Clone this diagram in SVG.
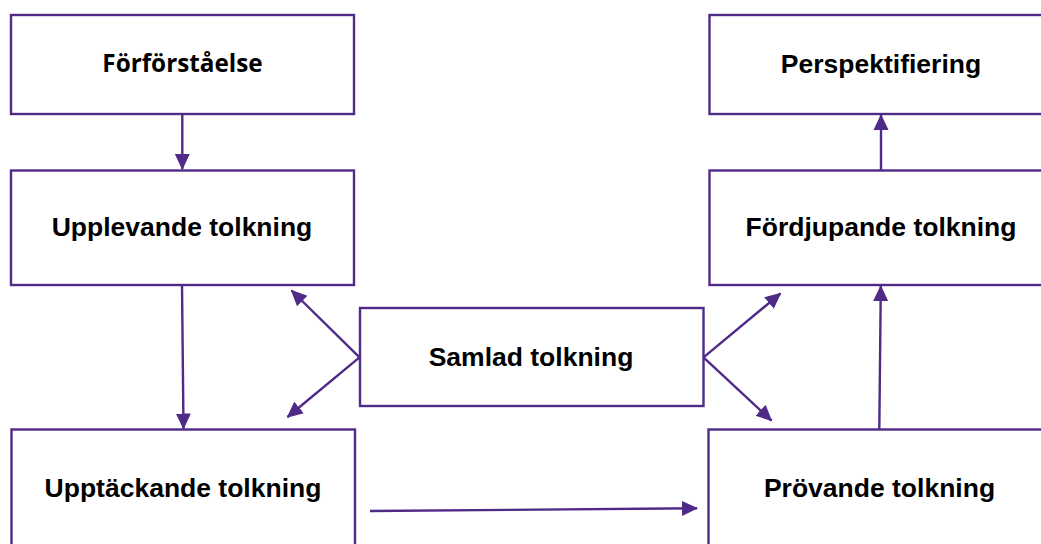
<svg xmlns="http://www.w3.org/2000/svg" width="1041" height="544" viewBox="0 0 1041 544">
  <style>
    .box { fill: #ffffff; stroke: #4f2a87; stroke-width: 2.4; }
    .lbl { font-family: "Liberation Sans", Arial, sans-serif; font-weight: bold; font-size: 26.5px; fill: #000000; text-anchor: middle; }
    .lbl2 { font-family: "Open Sans", "Noto Sans", sans-serif; font-weight: bold; font-size: 24.3px; fill: #000000; text-anchor: middle; }
    .conn { fill: none; stroke: #4f2a87; stroke-width: 2.4; }
  </style>
  <defs>
    <marker id="arrow" markerUnits="userSpaceOnUse" markerWidth="16" markerHeight="16" viewBox="0 0 16 16" refX="15" refY="8" orient="auto">
      <path d="M0,0.5 L16,8 L0,15.5 Z" fill="#4f2a87"/>
    </marker>
  </defs>
  <rect width="1041" height="544" fill="#ffffff"/>

  <g id="forforstaelse">
    <rect class="box" x="11" y="15" width="343" height="99"/>
    <text class="lbl2" x="182.5" y="72">Förförståelse</text>
  </g>
  <g id="upplevande">
    <rect class="box" x="11" y="170.5" width="343" height="114.5"/>
    <text class="lbl" x="182" y="236">Upplevande tolkning</text>
  </g>
  <g id="upptackande">
    <rect class="box" x="11.5" y="429.5" width="343.5" height="125"/>
    <text class="lbl" x="183" y="497">Upptäckande tolkning</text>
  </g>
  <g id="samlad">
    <rect class="box" x="360" y="308" width="343.5" height="98"/>
    <text class="lbl" x="531" y="366">Samlad tolkning</text>
  </g>
  <g id="perspektifiering">
    <rect class="box" x="709.5" y="15" width="343.5" height="99"/>
    <text class="lbl" x="881" y="73">Perspektifiering</text>
  </g>
  <g id="fordjupande">
    <rect class="box" x="709.5" y="170.5" width="343.5" height="114.5"/>
    <text class="lbl" x="881" y="236">Fördjupande tolkning</text>
  </g>
  <g id="provande">
    <rect class="box" x="708.5" y="429.5" width="343.5" height="125"/>
    <text class="lbl" x="879.5" y="497">Prövande tolkning</text>
  </g>

  <g id="connectors">
    <line class="conn" x1="182.3" y1="114" x2="182.3" y2="169" marker-end="url(#arrow)"/>
    <line class="conn" x1="182" y1="285" x2="183.5" y2="428.5" marker-end="url(#arrow)"/>
    <line class="conn" x1="359.5" y1="357.3" x2="291.5" y2="290.5" marker-end="url(#arrow)"/>
    <line class="conn" x1="359.5" y1="357.3" x2="287.5" y2="417" marker-end="url(#arrow)"/>
    <line class="conn" x1="703.5" y1="357.3" x2="780.5" y2="293.5" marker-end="url(#arrow)"/>
    <line class="conn" x1="703.5" y1="357.3" x2="771.5" y2="420.5" marker-end="url(#arrow)"/>
    <line class="conn" x1="370" y1="511" x2="697" y2="508.3" marker-end="url(#arrow)"/>
    <line class="conn" x1="879.3" y1="429.5" x2="880.8" y2="286" marker-end="url(#arrow)"/>
    <line class="conn" x1="881" y1="170.5" x2="881" y2="115" marker-end="url(#arrow)"/>
  </g>
</svg>
